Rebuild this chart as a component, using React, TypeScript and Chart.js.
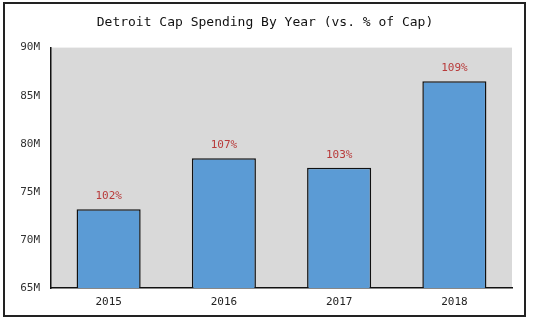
import React, { useEffect, useRef } from "react";
import { Chart, registerables } from "chart.js";

Chart.register(...registerables);

const years = ["2015", "2016", "2017", "2018"];
const spendingM = [73.2, 78.5, 77.5, 86.5];
const pctOfCap = ["102%", "107%", "103%", "109%"];
const yTicksM = [65, 70, 75, 80, 85, 90];

const FONT = "'DejaVu Sans Mono', 'Liberation Mono', monospace";

const bgPlugin = {
  id: "plotBg",
  beforeDraw(chart: any) {
    const { ctx, chartArea } = chart;
    ctx.save();
    ctx.fillStyle = "#ffffff";
    ctx.fillRect(0, 0, chart.width, chart.height);
    ctx.fillStyle = "#d9d9d9";
    ctx.fillRect(chartArea.left, chartArea.top, chartArea.right - chartArea.left, chartArea.bottom - chartArea.top);
    ctx.restore();
  },
  afterDraw(chart: any) {
    const { ctx } = chart;
    ctx.save();
    ctx.strokeStyle = "#222222";
    ctx.lineWidth = 2;
    ctx.strokeRect(4, 3, 521, 313);
    ctx.restore();
  },
};

const labelPlugin = {
  id: "pctLabels",
  afterDatasetsDraw(chart: any) {
    const { ctx } = chart;
    const meta = chart.getDatasetMeta(0);
    ctx.save();
    ctx.fillStyle = "#b83a3a";
    ctx.font = `11px ${FONT}`;
    ctx.textAlign = "center";
    ctx.textBaseline = "middle";
    meta.data.forEach((bar: any, i: number) => {
      ctx.fillText(pctOfCap[i], bar.x, bar.y - 13);
    });
    ctx.restore();
  },
};

export default function App() {
  const ref = useRef<HTMLCanvasElement | null>(null);
  useEffect(() => {
    if (!ref.current) return;
    const chart = new Chart(ref.current, {
      type: "bar",
      data: {
        labels: years,
        datasets: [
          {
            data: spendingM,
            backgroundColor: "#5b9bd5",
            borderColor: "#111111",
            borderWidth: 1.5,
            borderSkipped: false,
            categoryPercentage: 1,
            barPercentage: 0.556,
          },
        ],
      },
      options: {
        animation: false,
        responsive: false,
        maintainAspectRatio: false,
        layout: { padding: { top: 5, right: 22, bottom: 0, left: 18 } },
        plugins: {
          legend: { display: false },
          tooltip: { enabled: false },
          title: {
            display: true,
            text: "Detroit Cap Spending By Year (vs. % of Cap)",
            color: "#111111",
            font: { family: FONT, size: 13, weight: "normal" },
            padding: { top: 10, bottom: 17 },
          },
        },
        scales: {
          x: {
            grid: { display: false, drawTicks: false },
            border: { display: true, color: "#111111", width: 1.5 },
            ticks: { color: "#222222", font: { family: FONT, size: 11 }, padding: 8 },
            afterFit(scale: any) {
              scale.height = 36;
            },
          },
          y: {
            min: yTicksM[0],
            max: yTicksM[yTicksM.length - 1],
            grid: { display: false, drawTicks: false },
            border: { display: true, color: "#111111", width: 1.5 },
            afterBuildTicks(scale: any) {
              scale.ticks = yTicksM.map((v) => ({ value: v }));
            },
            ticks: {
              color: "#333333",
              font: { family: FONT, size: 11 },
              padding: 11,
              callback: (v: any) => `${v}M`,
            },
            afterFit(scale: any) {
              scale.width = 33;
            },
          },
        },
      },
      plugins: [bgPlugin, labelPlugin],
    } as any);
    return () => chart.destroy();
  }, []);
  return (
    <div style={{ position: "fixed", left: 0, top: 0, width: 534, height: 324, background: "#fff" }}>
      <canvas ref={ref} width={534} height={324} style={{ width: 534, height: 324, display: "block" }} />
    </div>
  );
}
